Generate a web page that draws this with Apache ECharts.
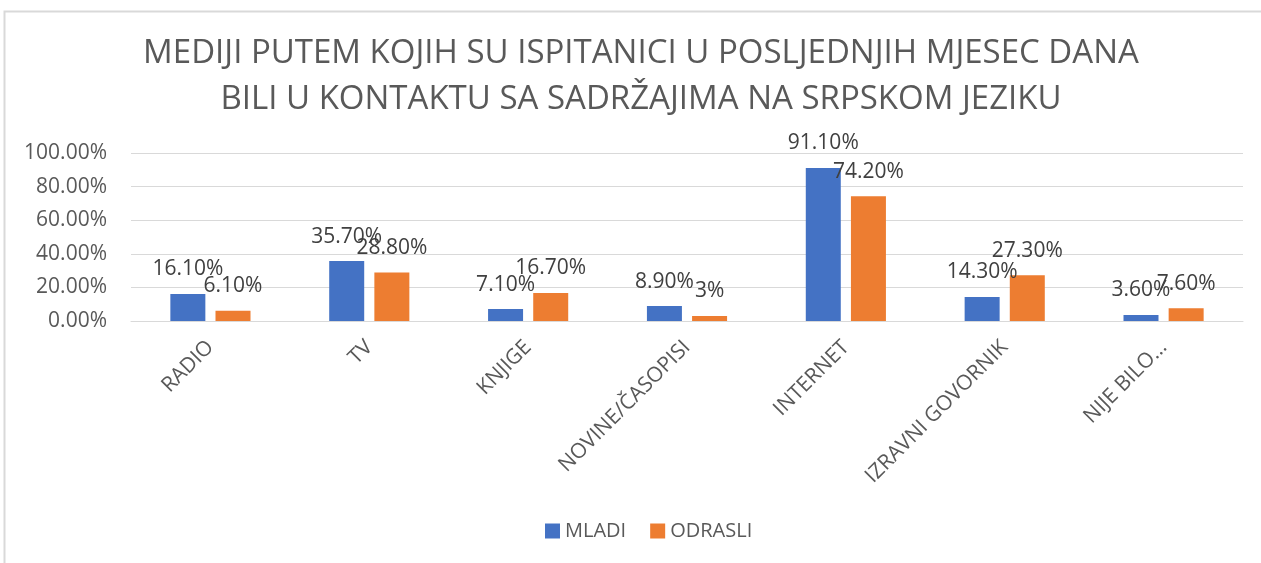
<!DOCTYPE html>
<html>
<head>
    <meta charset="utf-8">
    <title>ECharts</title>
    <script src="https://cdn.jsdelivr.net/npm/echarts@6/dist/echarts.min.js"></script>
</head>
<body style="margin:0; background:#fff;">
<div id="main" style="width:1261px; height:563px;"></div>

<script type="text/javascript">
    // podaci
    var categories = ['RADIO', 'TV', 'KNJIGE', 'NOVINE/ČASOPISI', 'INTERNET', 'IZRAVNI GOVORNIK', 'NIJE BILO…'];
    var mladi = [16.1, 35.7, 7.1, 8.9, 91.1, 14.3, 3.6];
    var odrasli = [6.1, 28.8, 16.7, 3, 74.2, 27.3, 7.6];
    var mladiLabels = ['16.10%', '35.70%', '7.10%', '8.90%', '91.10%', '14.30%', '3.60%'];
    var odrasliLabels = ['6.10%', '28.80%', '16.70%', '3%', '74.20%', '27.30%', '7.60%'];
    var yTicks = [0, 20, 40, 60, 80, 100];
    var titleText = 'MEDIJI PUTEM KOJIH SU ISPITANICI U POSLJEDNJIH MJESEC DANA\nBILI U KONTAKTU SA SADRŽAJIMA NA SRPSKOM JEZIKU';

    var font = '"Open Sans", sans-serif';

    function barLabel(labels) {
        return {
            show: true,
            position: 'top',
            distance: 14,
            color: '#404040',
            fontSize: 21,
            fontFamily: font,
            formatter: function (p) { return labels[p.dataIndex]; }
        };
    }

    var option = {
        backgroundColor: '#fff',
        animation: false,
        legend: {
            bottom: 17,
            left: 540,
            itemWidth: 15,
            itemHeight: 15,
            itemGap: 24,
            icon: 'rect',
            textStyle: { color: '#595959', fontSize: 20, fontFamily: font },
            data: ['MLADI', 'ODRASLI']
        },
        grid: {
            left: 131,
            right: 18,
            top: 153,
            bottom: 242,
            containLabel: false
        },
        xAxis: {
            type: 'category',
            data: categories,
            axisLine: { lineStyle: { color: '#d9d9d9', width: 1 } },
            axisTick: { show: false },
            axisLabel: {
                rotate: 45,
                interval: 0,
                margin: 23,
                color: '#595959',
                fontSize: 21,
                fontFamily: font
            }
        },
        yAxis: {
            type: 'value',
            min: yTicks[0],
            max: yTicks[yTicks.length - 1],
            interval: 20,
            axisLine: { show: false },
            axisTick: { show: false },
            splitLine: { lineStyle: { color: '#d9d9d9', width: 1 } },
            axisLabel: {
                margin: 24,
                color: '#595959',
                fontSize: 21,
                fontFamily: font,
                formatter: function (v) { return v.toFixed(2) + '%'; }
            }
        },
        series: [{
            name: 'MLADI',
            type: 'bar',
            barWidth: 35,
            barGap: '29%',
            itemStyle: { color: '#4472C4' },
            label: barLabel(mladiLabels),
            data: mladi
        }, {
            name: 'ODRASLI',
            type: 'bar',
            barWidth: 35,
            itemStyle: { color: '#ED7D31' },
            label: barLabel(odrasliLabels),
            data: odrasli
        }],
        graphic: [{
            type: 'rect',
            left: 2,
            top: 9,
            shape: { width: 1300, height: 600 },
            style: { fill: 'none', stroke: '#d9d9d9', lineWidth: 2 },
            silent: true,
            z: -1
        }, {
            // naslov
            type: 'text',
            x: 641,
            y: 31,
            silent: true,
            style: {
                text: titleText,
                fill: '#595959',
                fontSize: 33,
                fontFamily: font,
                lineHeight: 46,
                align: 'center',
                verticalAlign: 'top'
            }
        }]
    };

    var myChart = echarts.init(document.getElementById('main'));
    myChart.setOption(option);
</script>
</body>
</html>
